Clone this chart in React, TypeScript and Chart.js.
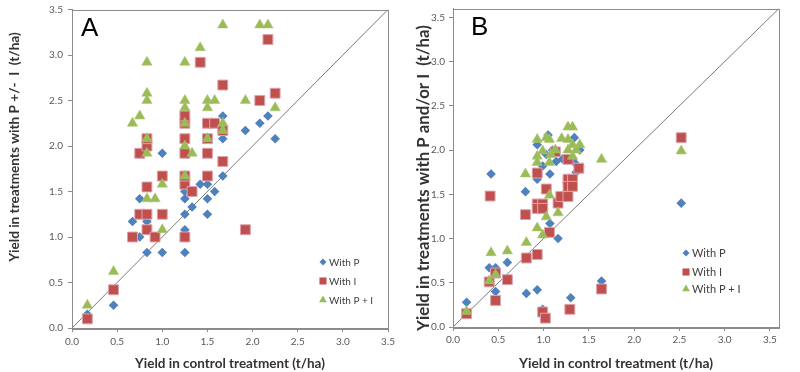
import React, { useEffect, useRef } from "react";
import { Chart, registerables } from "chart.js";
import { drawPoint } from "chart.js/helpers";
Chart.register(...registerables);

// ---------- shared ----------
const tickValues = [0, 0.5, 1.0, 1.5, 2.0, 2.5, 3.0, 3.5];
const tickLabels = ["0.0", "0.5", "1.0", "1.5", "2.0", "2.5", "3.0", "3.5"];
const seriesLabels = ["With P", "With I", "With P + I"];
const xTitle = "Yield in control treatment (t/ha)";

// ---------- panel A ----------
const aWithPX = [0.17, 0.46, 0.67, 0.75, 0.75, 0.83, 0.83, 1.0, 1.0, 1.25, 1.25, 1.25, 1.25, 1.25, 1.33, 1.42, 1.5, 1.5, 1.5, 1.58, 1.67, 1.67, 1.67, 1.92, 2.08, 2.17, 2.25];
const aWithPY = [0.15, 0.25, 1.17, 1.42, 1.0, 1.17, 0.83, 1.92, 0.83, 1.5, 1.42, 1.25, 1.08, 0.83, 1.33, 1.58, 1.58, 1.42, 1.25, 1.5, 2.33, 2.08, 1.67, 2.17, 2.25, 2.33, 2.08];
const aWithIX = [0.17, 0.46, 0.67, 0.75, 0.75, 0.83, 0.83, 0.83, 0.83, 0.83, 0.92, 1.0, 1.0, 1.25, 1.25, 1.25, 1.25, 1.25, 1.25, 1.25, 1.33, 1.42, 1.5, 1.5, 1.5, 1.5, 1.58, 1.67, 1.67, 1.67, 1.92, 2.08, 2.17, 2.25];
const aWithIY = [0.1, 0.42, 1.0, 1.25, 1.92, 1.25, 1.08, 1.55, 2.0, 2.08, 1.0, 1.25, 1.67, 1.0, 1.58, 1.67, 1.92, 2.08, 2.25, 2.33, 1.5, 2.92, 1.67, 1.92, 2.08, 2.25, 2.25, 2.67, 2.17, 1.83, 1.08, 2.5, 3.17, 2.58];
const aWithPIX = [0.17, 0.46, 0.67, 0.75, 0.83, 0.83, 0.83, 0.83, 0.83, 0.83, 0.92, 1.0, 1.0, 1.25, 1.25, 1.25, 1.25, 1.25, 1.25, 1.33, 1.42, 1.5, 1.5, 1.5, 1.58, 1.67, 1.67, 1.67, 1.92, 2.08, 2.17, 2.25];
const aWithPIY = [0.25, 0.62, 2.25, 2.33, 2.92, 2.58, 2.5, 2.08, 1.92, 1.42, 1.42, 1.58, 1.08, 2.92, 2.5, 2.42, 2.25, 2.0, 1.67, 1.92, 3.08, 2.5, 2.42, 2.08, 2.5, 3.33, 2.25, 2.17, 2.5, 3.33, 3.33, 2.42];
const aOneToOne = [0, 3.5];
const aYTitle = "Yield in treatments with P +/-  I  (t/ha)";

// ---------- panel B ----------
const bWithPX = [0.15, 0.42, 0.40, 0.47, 0.47, 0.60, 0.80, 0.81, 0.93, 0.93, 0.93, 0.99, 1.07, 1.16, 1.30, 1.64, 2.52, 1.05, 0.99, 1.07, 1.03, 1.14, 1.21, 1.34, 1.32, 1.40, 1.34, 1.10, 1.36];
const bWithPY = [0.28, 1.73, 0.67, 0.67, 0.40, 0.73, 1.53, 0.38, 0.42, 1.67, 2.06, 0.20, 1.17, 1.00, 0.33, 0.52, 1.40, 2.17, 1.82, 1.73, 1.95, 1.87, 1.90, 2.14, 1.90, 2.00, 1.86, 2.00, 1.75];
const bWithIX = [0.15, 0.41, 0.40, 0.47, 0.47, 0.60, 0.80, 0.81, 0.93, 0.93, 0.93, 0.93, 0.99, 0.99, 1.03, 1.065, 0.99, 1.02, 1.13, 1.16, 1.19, 1.27, 1.27, 1.27, 1.27, 1.32, 1.32, 1.39, 1.29, 1.64, 2.52];
const bWithIY = [0.15, 1.48, 0.51, 0.61, 0.30, 0.535, 1.27, 0.78, 0.82, 1.74, 1.39, 1.34, 1.39, 1.34, 1.56, 1.07, 0.17, 0.10, 1.98, 1.40, 1.475, 1.475, 1.895, 1.67, 1.59, 1.67, 1.59, 1.795, 0.20, 0.43, 2.14];
const bWithPIX = [0.15, 0.42, 0.40, 0.47, 0.60, 0.81, 0.80, 0.93, 0.99, 1.03, 1.065, 1.16, 1.64, 2.52, 0.93, 0.93, 0.93, 0.99, 1.03, 1.065, 1.065, 1.08, 1.13, 1.20, 1.27, 1.32, 1.27, 1.32, 1.40, 1.32, 1.36, 1.27];
const bWithPIY = [0.175, 0.84, 0.52, 0.59, 0.86, 0.955, 1.73, 1.12, 1.04, 1.245, 1.49, 1.29, 1.895, 1.99, 2.12, 1.93, 1.86, 1.99, 2.14, 2.12, 1.86, 1.95, 2.0, 2.13, 2.26, 2.26, 2.12, 2.06, 2.06, 1.93, 2.0, 2.0];
const bOneToOne = [0, 3.6];
const bYTitle = "Yield in treatments with P and/or I  (t/ha)";

const pts = (xs: number[], ys: number[]) => xs.map((x, i) => ({ x, y: ys[i] }));

const BLUE = "#4F81BD";
const RED = "#C0504D";
const GREEN = "#9BBB59";
const AXIS = "#8C8C8C";
const TICK_TXT = "#595959";
const TITLE_TXT = "#333333";
const FONT = "Lato, 'Liberation Sans', sans-serif";

// font size that makes a bold text span the given width
function fitSize(text: string, width: number): number {
  const c = document.createElement("canvas").getContext("2d");
  if (!c) return 13;
  c.font = `bold 100px ${FONT}`;
  const w = c.measureText(text).width;
  return Math.round((100 * width) / w * 10) / 10;
}

const decorPlugin = {
  id: "decor",
  afterDraw(chart: any, _args: any, o: any) {
    const ctx = chart.ctx;
    const ca = chart.chartArea;
    ctx.save();
    ctx.strokeStyle = AXIS;
    ctx.lineWidth = 1;
    ctx.strokeRect(Math.round(ca.left) + 0.5, Math.round(ca.top) + 0.5, Math.round(ca.right - ca.left), Math.round(ca.bottom - ca.top));
    ctx.fillStyle = "#000";
    ctx.font = `26px 'Liberation Sans', Arial, sans-serif`;
    ctx.textAlign = "left";
    ctx.textBaseline = "alphabetic";
    ctx.fillText(o.letter, o.letterX, o.letterY);
    ctx.fillStyle = TITLE_TXT;
    ctx.font = `bold ${fitSize(o.yTitle, o.yTitleWidth)}px ${FONT}`;
    ctx.translate(o.yTitleX, o.yTitleY);
    ctx.rotate(-Math.PI / 2);
    ctx.textAlign = "center";
    ctx.textBaseline = "middle";
    ctx.fillText(o.yTitle, 0, 0);
    ctx.restore();
    ctx.save();
    ctx.font = `${o.legendSize}px ${FONT}`;
    ctx.textAlign = "left";
    ctx.textBaseline = "middle";
    seriesLabels.forEach((lab, i) => {
      const ds = chart.data.datasets.find((d: any) => d.label === lab);
      const y = o.legendY[i];
      ctx.fillStyle = ds.backgroundColor;
      ctx.strokeStyle = ds.backgroundColor;
      drawPoint(ctx, { pointStyle: ds.pointStyle, radius: o.legendR[i], rotation: 0, borderWidth: 0 }, o.legendX, y);
      ctx.fillStyle = "#404040";
      ctx.fillText(lab, o.legendX + 6, y + 0.5);
    });
    ctx.restore();
  },
};

type Panel = {
  p: [number[], number[]];
  i: [number[], number[]];
  pi: [number[], number[]];
  line: number[];
  max: number;
  yAxisW: number;
  xAxisH: number;
  padRight: number;
  padTop: number;
  tickPad: number;
  xTitleWidth: number;
  decor: any;
};

function makeConfig(pn: Panel): any {
  const scaleCommon = (axis: "x" | "y") => ({
    type: "linear",
    min: 0,
    max: pn.max,
    afterBuildTicks: (s: any) => {
      s.ticks = tickValues.map((v) => ({ value: v }));
    },
    afterFit: (s: any) => {
      if (axis === "y") s.width = pn.yAxisW;
      else s.height = pn.xAxisH;
    },
    grid: { display: true, drawOnChartArea: false, drawTicks: true, tickLength: 4, color: AXIS },
    border: { display: true, color: AXIS },
    ticks: {
      color: TICK_TXT,
      font: { family: FONT, size: 10, lineHeight: 0.9 },
      padding: pn.tickPad,
      callback: (_v: any, idx: number) => tickLabels[idx],
    },
  });
  return {
    type: "scatter",
    data: {
      datasets: [
        {
          label: seriesLabels[0],
          data: pts(pn.p[0], pn.p[1]),
          pointStyle: "rectRot",
          pointRadius: 4.8,
          backgroundColor: BLUE,
          borderColor: BLUE,
          borderWidth: 0,
          order: 3,
        },
        {
          label: seriesLabels[1],
          data: pts(pn.i[0], pn.i[1]),
          pointStyle: "rect",
          pointRadius: 7,
          backgroundColor: RED,
          borderColor: "#DDA3AE",
          borderWidth: 1,
          order: 2,
        },
        {
          label: seriesLabels[2],
          data: pts(pn.pi[0], pn.pi[1]),
          pointStyle: "triangle",
          pointRadius: 6,
          backgroundColor: GREEN,
          borderColor: "#A9C76A",
          borderWidth: 0.5,
          order: 1,
        },
        {
          type: "line",
          label: "1:1",
          data: pts(pn.line, pn.line),
          borderColor: "#7A7A7A",
          borderWidth: 1,
          pointRadius: 0,
          showLine: true,
          fill: false,
          order: 5,
        },
      ],
    },
    options: {
      animation: false,
      responsive: false,
      devicePixelRatio: 1,
      layout: { padding: { left: 0, right: pn.padRight, top: pn.padTop, bottom: 0 } },
      plugins: {
        legend: { display: false },
        tooltip: { enabled: false },
        decor: pn.decor,
      },
      scales: {
        x: {
          ...scaleCommon("x"),
          title: {
            display: true,
            text: xTitle,
            color: TITLE_TXT,
            font: { family: FONT, size: fitSize(xTitle, pn.xTitleWidth), weight: "bold" },
            padding: { top: 3, bottom: 0 },
          },
        },
        y: { ...scaleCommon("y") },
      },
    },
    plugins: [decorPlugin],
  };
}

const panelA: Panel = {
  p: [aWithPX, aWithPY],
  i: [aWithIX, aWithIY],
  pi: [aWithPIX, aWithPIY],
  line: aOneToOne,
  max: 3.5,
  yAxisW: 72,
  xAxisH: 44,
  padRight: 10,
  padTop: 9,
  tickPad: 5,
  xTitleWidth: 190,
  decor: {
    letter: "A",
    letterX: 81,
    letterY: 36,
    yTitle: aYTitle,
    yTitleWidth: 230,
    yTitleX: 15,
    yTitleY: 147,
    legendX: 323,
    legendY: [262, 281, 300],
    legendR: [3.5, 5, 4.5],
    legendSize: 10,
  },
};

const panelB: Panel = {
  p: [bWithPX, bWithPY],
  i: [bWithIX, bWithIY],
  pi: [bWithPIX, bWithPIY],
  line: bOneToOne,
  max: 3.6,
  yAxisW: 53,
  xAxisH: 45,
  padRight: 21,
  padTop: 4,
  tickPad: 4,
  xTitleWidth: 194,
  decor: {
    letter: "B",
    letterX: 71,
    letterY: 35,
    yTitle: bYTitle,
    yTitleWidth: 306,
    yTitleX: 24,
    yTitleY: 178,
    legendX: 286,
    legendY: [253, 272, 289],
    legendR: [3.5, 5, 4.5],
    legendSize: 11,
  },
};

function PanelChart({ panel, left }: { panel: Panel; left: number }) {
  const ref = useRef<HTMLCanvasElement | null>(null);
  useEffect(() => {
    if (!ref.current) return;
    const chart = new Chart(ref.current, makeConfig(panel));
    return () => chart.destroy();
  }, [panel]);
  return (
    <div style={{ position: "absolute", left, top: 0, width: 400, height: 372 }}>
      <canvas ref={ref} width={400} height={372} style={{ display: "block", width: 400, height: 372 }} />
    </div>
  );
}

export default function App() {
  return (
    <div style={{ position: "fixed", left: 0, top: 0, width: 800, height: 372, background: "#fff", overflow: "hidden" }}>
      <PanelChart panel={panelA} left={0} />
      <PanelChart panel={panelB} left={400} />
    </div>
  );
}
